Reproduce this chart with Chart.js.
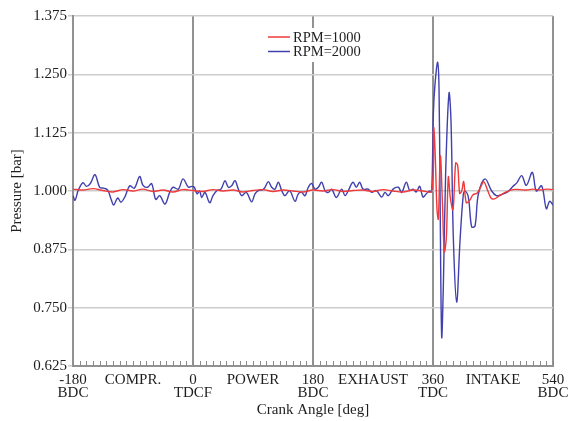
<!DOCTYPE html>
<html>
<head>
<meta charset="utf-8">
<script src="https://cdn.jsdelivr.net/npm/chart.js@4/dist/chart.umd.min.js"></script>
<style>
  html, body { margin: 0; padding: 0; background: #fff; }
  #wrap { width: 570px; height: 421px; }
</style>
</head>
<body>
<div id="wrap"><canvas id="myChart" width="570" height="421"></canvas></div>
<script>
// x axis labels (crank angle, two lines where the picture has two)
const xTickValues = [-180, -90, 0, 90, 180, 270, 360, 450, 540];
const xTickLabels = [['-180', 'BDC'], 'COMPR.', ['0', 'TDCF'], 'POWER', ['180', 'BDC'], 'EXHAUST', ['360', 'TDC'], 'INTAKE', ['540', 'BDC']];

// RPM=1000 (red)
const angle1000 = [-180, -165, -150, -135, -120, -105, -90, -75, -60, -45, -30, -15, 0, 15, 30, 45, 60, 75, 90, 105, 120, 135, 150, 165, 180, 195, 210, 225, 240, 255, 270, 285, 300, 315, 330, 345, 358,
  361, 363, 366, 368, 371, 374, 377, 380, 383, 386, 390, 394, 397, 400, 403, 406, 410, 415, 420, 426, 432, 436, 441, 447, 452, 460, 470, 480, 490, 500, 510, 520, 530, 540];
const press1000 = [1.004, 1.002, 1.005, 1.001, 0.998, 1.003, 1.000, 1.004, 0.999, 1.002, 0.998, 1.003, 1.001, 0.999, 1.003, 1.000, 1.002, 0.998, 1.001, 1.003, 0.999, 1.002, 1.000, 0.998, 1.002, 1.000, 1.003, 0.999, 1.001, 1.002, 0.999, 1.003, 1.000, 0.998, 1.002, 1.000, 1.000,
  1.135, 1.090, 0.960, 0.940, 1.075, 0.980, 0.870, 0.900, 1.030, 0.985, 0.960, 1.060, 1.055, 0.995, 1.000, 1.020, 0.975, 0.980, 0.992, 0.995, 1.010, 1.020, 1.005, 0.985, 0.983, 0.990, 0.998, 1.003, 1.003, 1.002, 1.004, 1.002, 1.004, 1.003];

// RPM=2000 (blue)
const angle2000 = [-180, -177, -172, -165, -160, -154, -147, -140, -134, -128, -123, -119, -113, -108, -102, -95, -88, -80, -75, -68, -62, -56, -50, -42, -35, -30, -22, -15, -7, -2,
  2, 6, 10, 13, 18, 25, 30, 36, 42, 48, 53, 58, 63, 68, 73, 80, 88, 93, 98, 106, 113, 118, 123, 128, 133, 138, 145, 153, 158, 163, 168, 173, 178,
  183, 188, 193, 198, 203, 208, 215, 223, 228, 233, 240, 245, 250, 255, 263, 268, 275, 283, 288, 293, 300, 308, 313, 320, 325, 330, 335, 340, 345, 350, 355, 358,
  360.5, 363, 367, 369, 370.5, 373, 375.5, 379, 384, 387, 390.5, 395.5, 400.5, 405.5, 408, 413, 418, 423, 428, 438, 448, 455, 462, 472, 480, 486, 493, 500, 509, 515, 523, 530, 535, 540];
const press2000 = [0.990, 0.980, 1.002, 1.018, 1.010, 1.016, 1.035, 1.008, 1.006, 1.002, 0.983, 0.970, 0.985, 0.976, 0.988, 1.011, 1.006, 1.031, 1.012, 1.008, 1.016, 0.982, 0.990, 0.972, 0.997, 1.008, 1.004, 1.026, 1.008, 1.010,
  1.008, 0.994, 1.000, 0.986, 0.997, 0.975, 0.990, 1.001, 1.004, 1.022, 1.008, 1.011, 1.022, 1.004, 0.990, 0.997, 0.977, 0.994, 1.001, 1.004, 1.020, 1.008, 1.004, 1.019, 1.001, 0.990, 1.001, 0.978, 0.994, 0.997, 0.990, 1.008, 1.016,
  1.004, 1.008, 1.019, 1.001, 0.997, 1.004, 0.986, 1.004, 0.990, 1.001, 1.019, 1.008, 1.019, 1.004, 1.004, 0.997, 1.001, 0.987, 0.997, 0.990, 1.004, 1.008, 0.997, 1.019, 1.001, 1.004, 0.998, 1.010, 0.987, 0.994, 1.000, 0.998,
  1.165, 1.229, 1.276, 1.222, 1.008, 0.688, 0.795, 1.040, 1.210, 1.150, 0.900, 0.762, 0.893, 0.993, 1.000, 0.987, 0.923, 0.925, 0.993, 1.026, 1.000, 0.990, 0.992, 0.998, 1.010, 1.018, 1.033, 1.012, 1.040, 1.000, 1.011, 0.962, 0.978, 0.970];

// y axis range
const yMin = 0.625, yMax = 1.375, yStep = 0.125;

const serif = '"Liberation Serif", "DejaVu Serif", serif';
const textColor = '#1e1e1e';

const toPoints = (xs, ys) => xs.map((x, i) => ({ x: x, y: ys[i] }));

// small inward ticks along the bottom axis
const minorTicks = {
  id: 'minorTicks',
  afterDatasetsDraw(chart) {
    const sx = chart.scales.x, ctx = chart.ctx;
    const bottom = chart.chartArea.bottom;
    ctx.save();
    ctx.strokeStyle = '#8a8a8a';
    ctx.lineWidth = 1;
    sx.ticks.forEach(t => {
      const px = Math.round(sx.getPixelForValue(t.value)) + 0.5;
      ctx.beginPath();
      ctx.moveTo(px, bottom);
      ctx.lineTo(px, bottom - 5);
      ctx.stroke();
    });
    ctx.restore();
  }
};

// legend box drawn inside the plot
const insideLegend = {
  id: 'insideLegend',
  afterDatasetsDraw(chart) {
    const ctx = chart.ctx, area = chart.chartArea;
    const cx = (area.left + area.right) / 2;
    const x0 = cx - 45, y0 = 37;
    ctx.save();
    ctx.fillStyle = '#fff';
    ctx.fillRect(x0 - 6, 28, 114, 34);
    ctx.font = '14.5px ' + serif;
    ctx.textBaseline = 'middle';
    chart.data.datasets.forEach((ds, i) => {
      const y = y0 + i * 14.5;
      ctx.strokeStyle = ds.borderColor;
      ctx.lineWidth = 1.5;
      ctx.beginPath();
      ctx.moveTo(x0, y);
      ctx.lineTo(x0 + 22, y);
      ctx.stroke();
      ctx.fillStyle = textColor;
      ctx.fillText(ds.label, x0 + 25, y + 1);
    });
    ctx.restore();
  }
};

const init = function () {
  const ctx = document.getElementById('myChart').getContext('2d');
  new Chart(ctx, {
    type: 'line',
    data: {
      datasets: [{
        label: 'RPM=1000',
        data: toPoints(angle1000, press1000),
        borderColor: '#f03a3a',
        borderWidth: 1.4,
        pointRadius: 0,
        tension: 0.35
      }, {
        label: 'RPM=2000',
        data: toPoints(angle2000, press2000),
        borderColor: '#4040ae',
        borderWidth: 1.4,
        pointRadius: 0,
        tension: 0.35
      }]
    },
    options: {
      responsive: false,
      animation: false,
      layout: { padding: { top: 16, right: 17, left: 3, bottom: 3 } },
      plugins: {
        legend: { display: false },
        tooltip: { enabled: false }
      },
      scales: {
        x: {
          type: 'linear',
          min: -180,
          max: 540,
          afterFit: s => { s.height = 52; s.paddingRight = 0; s.paddingLeft = 0; },
          ticks: {
            stepSize: 10,
            autoSkip: false,
            maxRotation: 0,
            padding: 7,
            color: textColor,
            font: { family: serif, size: 15, lineHeight: 0.88 },
            callback: v => {
              const i = xTickValues.indexOf(Math.round(v));
              return i >= 0 ? xTickLabels[i] : '';
            }
          },
          grid: {
            color: c => (c.tick && Math.round(c.tick.value) % 180 === 0) ? '#929292' : 'rgba(0,0,0,0)',
            lineWidth: 2,
            drawTicks: false
          },
          border: { color: '#929292', width: 2 },
          title: {
            display: true,
            text: 'Crank Angle [deg]',
            color: textColor,
            font: { family: serif, size: 15, lineHeight: 1.0 },
            padding: { top: 0, bottom: 0 }
          }
        },
        y: {
          min: yMin,
          max: yMax,
          afterFit: s => { s.width = 70; },
          ticks: {
            stepSize: yStep,
            color: textColor,
            padding: 1,
            font: { family: serif, size: 15 },
            callback: v => Number(v).toFixed(3)
          },
          grid: {
            color: '#cdcdcd',
            lineWidth: 1.5,
            tickLength: 5
          },
          border: { color: '#929292', width: 2 },
          title: {
            display: true,
            text: 'Pressure [bar]',
            color: textColor,
            font: { family: serif, size: 15, lineHeight: 1.0 },
            padding: { top: 7, bottom: 0 }
          }
        }
      }
    },
    plugins: [minorTicks, insideLegend]
  });
};

document.addEventListener('DOMContentLoaded', init);
</script>
</body>
</html>
